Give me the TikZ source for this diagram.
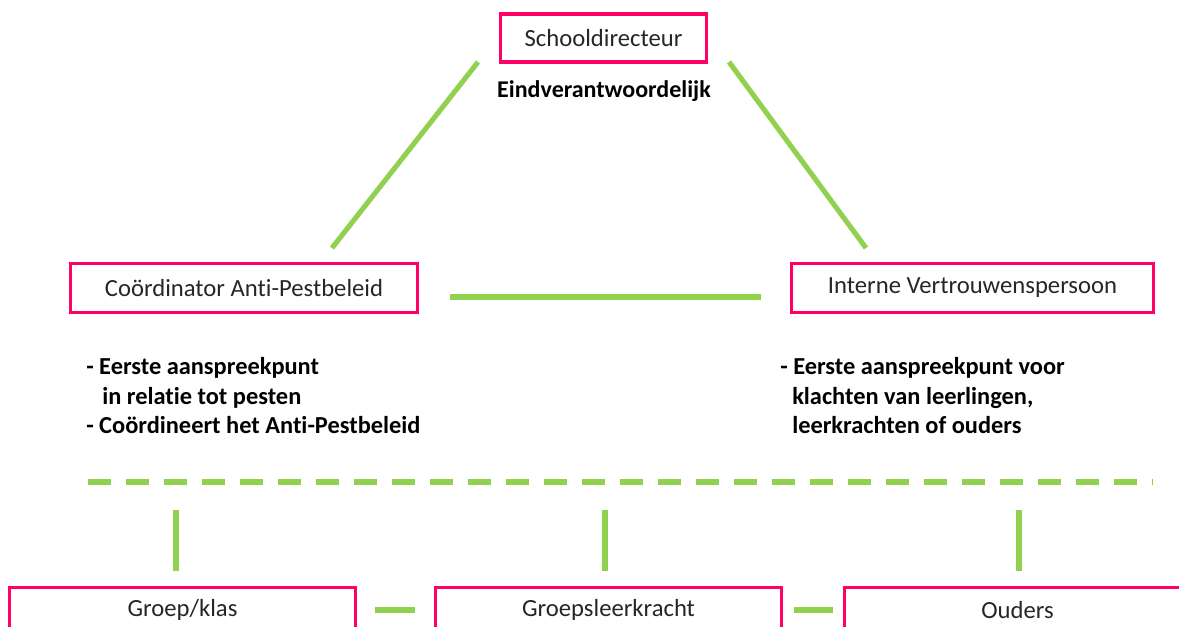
\documentclass[tikz,border=0pt]{standalone}
\usepackage{fontspec}
\setmainfont{Carlito}[Ligatures={NoCommon}]
\definecolor{pinkb}{HTML}{FF0066}
\definecolor{greenl}{HTML}{92D050}
\begin{document}
\begin{tikzpicture}[x=0.75pt,y=-0.75pt,
  box/.style={draw=pinkb,line width=2.4pt,fill=white,inner sep=0pt,font=\fontsize{18.5}{22}\selectfont,text=black!85},
  conn/.style={draw=greenl,line width=3.8pt},
  desc/.style={font=\bfseries\fontsize{18.3}{22}\selectfont,anchor=base west,inner sep=0pt}]
\useasboundingbox (0,0) rectangle (1179,627);
\clip (0,0) rectangle (1179,627);
\fill[white] (0,0) rectangle (1179,627);
% top
\node[box,minimum width=155pt,minimum height=36pt] (dir) at (603.5,38) {Schooldirecteur};
\node[font=\bfseries\fontsize{18}{22}\selectfont,inner sep=0pt] (eind) at (604,91) {Eindverantwoordelijk};
% middle boxes
\node[box,minimum width=260pt,minimum height=37pt] (coord) at (244,288) {Coördinator Anti-Pestbeleid};
\node[box,minimum width=272pt,minimum height=37pt] (ivp) at (972.5,288) {Interne Vertrouwenspersoon};
% triangle connectors
\coordinate (l1) at (478,62);
\coordinate (l2) at (332,248);
\coordinate (r1) at (729,62);
\coordinate (r2) at (866,248);
\coordinate (m1) at (450,297);
\coordinate (m2) at (761,297);
\draw[conn] (l1) -- (l2);
\draw[conn] (r1) -- (r2);
\draw[conn] (m1) -- (m2);
% descriptions
\node[desc] (c1) at (86,375) {- Eerste aanspreekpunt};
\node[desc] (c2) at (102,404.5) {in relatie tot pesten};
\node[desc] (c3) at (86,434) {- Coördineert het Anti-Pestbeleid};
\node[desc] (i1) at (780,375) {- Eerste aanspreekpunt voor};
\node[desc] (i2) at (792,404.5) {klachten van leerlingen,};
\node[desc] (i3) at (792,434) {leerkrachten of ouders};
% dashed separator
\coordinate (d1) at (88,482);
\coordinate (d2) at (1153,482);
\draw[conn,dash pattern=on 17pt off 11.5pt] (d1) -- (d2);
% bottom boxes
\node[box,minimum width=259pt,minimum height=34pt] (groep) at (182.5,610) {Groep/klas};
\node[box,minimum width=260pt,minimum height=34pt] (gl) at (608.5,610) {Groepsleerkracht};
\node[box,minimum width=259pt,minimum height=34pt] (ouders) at (1017.5,610) {Ouders};
% vertical connectors
\coordinate (v1a) at (176,510); \coordinate (v1b) at (176,571);
\coordinate (v2a) at (605,510); \coordinate (v2b) at (605,571);
\coordinate (v3a) at (1019,510); \coordinate (v3b) at (1019,571);
\draw[conn] (v1a) -- (v1b);
\draw[conn] (v2a) -- (v2b);
\draw[conn] (v3a) -- (v3b);
% short horizontal connectors
\draw[conn] ([xshift=14pt]groep.east) -- ([xshift=-14pt]gl.west);
\draw[conn] ([xshift=8pt]gl.east) -- ([xshift=-8pt]ouders.west);
\end{tikzpicture}
\end{document}
